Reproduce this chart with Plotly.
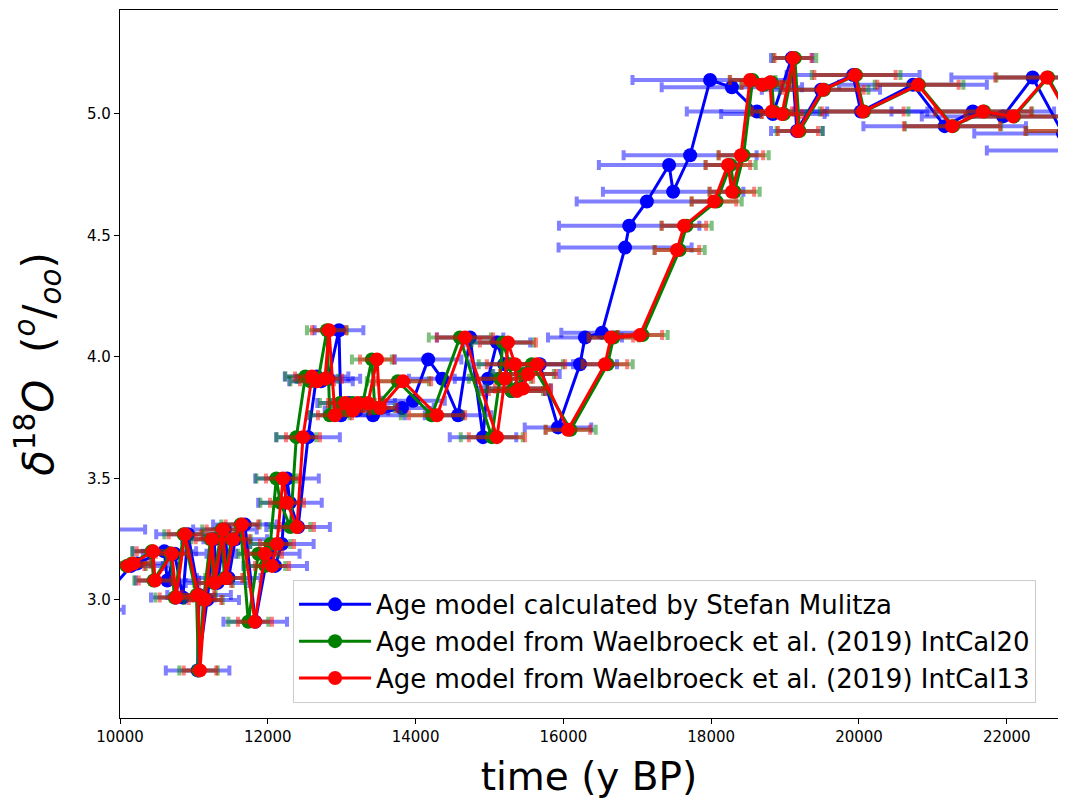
import plotly.graph_objects as go

# Mulitza age model
age_mulitza = [9880, 9640, 10150, 10230, 10600, 10640, 10740, 10850, 10920, 11070,
               11050, 11180, 11270, 11320, 11420, 11470, 11560, 11690, 11830, 12000,
               12100, 12190, 12260, 12300, 12410, 12545, 12660, 12720, 12820, 12963,
               12990, 13100, 13200, 13290, 13424, 13816, 13965, 14170, 14360, 14575,
               14737, 14912, 14980, 15101, 15200, 15300, 15380, 15500, 15680, 15927,
               16225, 16292, 16522, 16835, 16890, 17130, 17430, 17485, 17715, 17985,
               18280, 18620, 18835, 19090, 19160, 19485, 19920, 20025, 20730, 21160,
               21540, 21950, 22350, 22760, 23100]
d18o_mulitza = [3.29, 2.96, 3.14, 3.15, 3.20, 3.08, 3.19, 3.01, 3.27, 3.02,
                2.71, 3.00, 3.25, 3.07, 3.29, 3.09, 3.25, 3.31, 2.91, 3.19,
                3.14, 3.23, 3.50, 3.40, 3.30, 3.67, 3.92, 3.90, 3.91, 4.11,
                3.76, 3.81, 3.78, 3.81, 3.76, 3.79, 3.82, 3.99, 3.91, 3.76,
                4.08, 3.67, 3.91, 4.06, 3.97, 3.86, 3.87, 3.93, 3.97, 3.71,
                3.97, 4.08, 4.10, 4.45, 4.54, 4.64, 4.79, 4.68, 4.83, 5.14,
                5.11, 5.01, 5.00, 5.23, 4.93, 5.10, 5.16, 5.01, 5.12, 4.95,
                5.01, 4.99, 5.15, 4.92, 4.85]
err_mulitza = [460, 410, 430, 430, 430, 430, 430, 430, 430, 430,
               430, 430, 430, 430, 430, 430, 430, 430, 430, 430,
               430, 430, 430, 430, 430, 430, 430, 430, 430, 330,
               430, 430, 430, 430, 430, 430, 430, 450, 450, 450,
               450, 450, 450, 450, 450, 450, 450, 450, 450, 450,
               500, 500, 550, 900, 950, 950, 950, 950, 900, 1050,
               950, 950, 700, 280, 350, 800, 900, 900, 1000, 1100,
               1100, 1100, 1100, 1200, 1370]

# Waelbroeck et al. (2019) age models, same samples
d18o_waelbroeck = [3.14, 3.15, 3.20, 3.08, 3.19, 3.01, 3.27, 3.02, 2.71, 3.00,
                   3.25, 3.07, 3.29, 3.09, 3.25, 3.31, 2.91, 3.19, 3.14, 3.23,
                   3.50, 3.40, 3.30, 3.67, 3.92, 3.90, 3.91, 4.11, 3.76, 3.81,
                   3.78, 3.81, 3.81, 3.99, 3.79, 3.90, 3.76, 4.08, 3.67, 3.91,
                   4.06, 3.97, 3.86, 3.87, 3.93, 3.97, 3.70, 3.97, 4.08, 4.09,
                   4.44, 4.54, 4.64, 4.79, 4.68, 4.83, 5.14, 5.12, 5.13, 5.01,
                   5.00, 5.23, 4.93, 5.10, 5.16, 5.01, 5.12, 4.95, 5.01, 4.99,
                   5.15, 4.93]
age_intcal20 = [10090, 10160, 10427, 10454, 10684, 10738, 10860, 11035, 11062, 11130,
                11225, 11265, 11373, 11414, 11509, 11630, 11736, 11872, 11967, 12034,
                12115, 12170, 12305, 12386, 12508, 12576, 12684, 12800, 12839, 12975,
                13083, 13150, 13286, 13408, 13448, 13760, 14220, 14599, 15031, 15140,
                15180, 15275, 15302, 15383, 15451, 15573, 16097, 16598, 16679, 17071,
                17572, 17667, 18073, 18262, 18316, 18438, 18560, 18713, 18820, 18847,
                18983, 19132, 19195, 19528, 19961, 20069, 20813, 21273, 21693, 22099,
                22559, 22965]
err_intcal20 = [260, 260, 260, 260, 260, 260, 260, 260, 260, 260,
                260, 260, 260, 260, 260, 260, 270, 270, 270, 270,
                270, 270, 270, 270, 270, 270, 270, 270, 270, 270,
                270, 270, 270, 270, 270, 420, 420, 420, 420, 420,
                420, 420, 420, 420, 420, 420, 340, 340, 340, 340,
                340, 340, 340, 340, 340, 340, 310, 310, 310, 310,
                310, 290, 310, 600, 600, 600, 600, 650, 650, 650,
                700, 700]
age_intcal13 = [10110, 10180, 10447, 10474, 10704, 10758, 10880, 11055, 11082, 11150,
                11245, 11285, 11393, 11434, 11529, 11650, 11826, 11962, 12057, 12124,
                12205, 12260, 12395, 12476, 12598, 12666, 12774, 12828, 12909, 13045,
                13153, 13220, 13356, 13478, 13518, 13830, 14290, 14669, 15101, 15210,
                15250, 15345, 15372, 15453, 15521, 15643, 16062, 16563, 16644, 17036,
                17537, 17632, 18038, 18227, 18281, 18403, 18525, 18688, 18795, 18822,
                18958, 19107, 19175, 19513, 19946, 20054, 20798, 21258, 21678, 22084,
                22544, 22950]
err_intcal13 = [220, 220, 220, 220, 220, 220, 220, 220, 220, 220,
                220, 220, 220, 220, 220, 220, 230, 230, 230, 230,
                230, 230, 230, 230, 230, 230, 230, 230, 230, 230,
                230, 230, 230, 230, 230, 380, 380, 380, 380, 380,
                380, 380, 380, 380, 380, 380, 300, 300, 300, 300,
                300, 300, 300, 300, 300, 300, 270, 270, 270, 270,
                270, 250, 270, 550, 550, 550, 550, 650, 650, 650,
                700, 700]

series = [
    ("Age model calculated by Stefan Mulitza", age_mulitza, d18o_mulitza, err_mulitza,
     "rgb(0,0,255)", "rgba(0,0,255,0.5)"),
    ("Age model from Waelbroeck et al. (2019) IntCal20", age_intcal20, d18o_waelbroeck, err_intcal20,
     "rgb(0,128,0)", "rgba(0,128,0,0.5)"),
    ("Age model from Waelbroeck et al. (2019) IntCal13", age_intcal13, d18o_waelbroeck, err_intcal13,
     "rgb(255,0,0)", "rgba(255,0,0,0.5)"),
]

fig = go.Figure()
for i, (name, ages, vals, errs, col, ecol) in enumerate(series):
    fig.add_trace(go.Scatter(
        x=ages, y=vals, name=name, mode="lines+markers", legendgroup=f"g{i}",
        line=dict(color=col, width=3),
        marker=dict(color=col, size=14),
        error_x=dict(type="data", array=errs, color=ecol, thickness=4, width=5),
    ))

# page body has an 8px margin, so the figure sits at (8, 8) and is sized to fit
fig.update_layout(
    width=1050, height=791,
    margin=dict(l=112, r=0, t=2, b=81, autoexpand=False),
    plot_bgcolor="white", paper_bgcolor="white",
    font=dict(family="DejaVu Sans", size=15, color="black"),
    legend=dict(x=0.1845, y=0.195, xanchor="left", yanchor="top",
                bgcolor="white", bordercolor="#cccccc", borderwidth=1,
                font=dict(size=26), tracegroupgap=0, itemwidth=72),
)
fig.update_xaxes(
    range=[10000, 22693], tickformat="d", dtick=2000, tick0=10000,
    showgrid=False, zeroline=False, automargin=True,
    showline=True, linecolor="black", linewidth=1.3, mirror=True,
    ticks="outside", ticklen=5, tickcolor="black",
    title=dict(text="time (y BP)", font=dict(size=39), standoff=24),
)
fig.update_yaxes(
    range=[2.514, 5.428], tickformat=".1f", dtick=0.5, tick0=3.0,
    showgrid=False, zeroline=False, automargin=False,
    showline=True, linecolor="black", linewidth=1.3, mirror=False,
    ticks="outside", ticklen=5, tickcolor="black",
    title=dict(text="<i>δ</i><sup>18</sup><i>O</i>\u00a0\u00a0(<sup><i>o</i></sup>/<sub><i>oo</i></sub>)",
               font=dict(size=42), standoff=22),
)

fig.write_html("out.html")
